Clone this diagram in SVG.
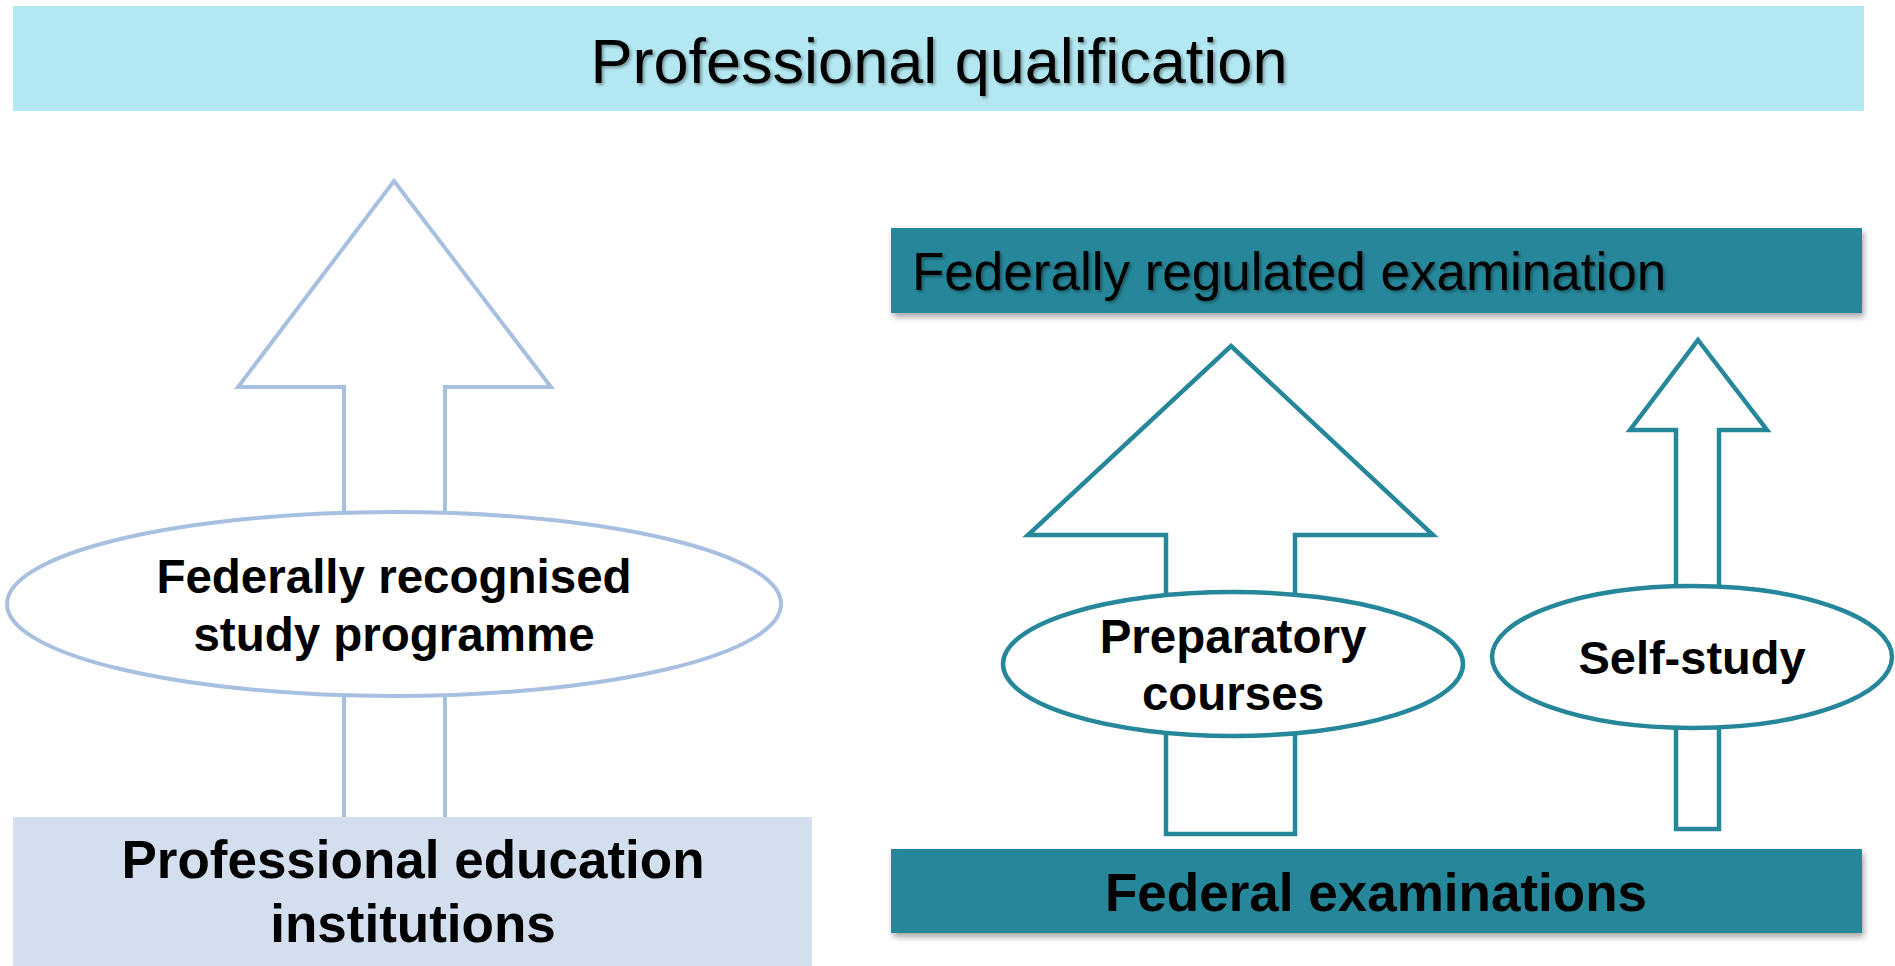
<svg xmlns="http://www.w3.org/2000/svg" width="1895" height="966" viewBox="0 0 1895 966">
  <defs>
    <filter id="boxShadow" x="-5%" y="-20%" width="110%" height="150%">
      <feDropShadow dx="2" dy="4" stdDeviation="3" flood-color="#000" flood-opacity="0.35"/>
    </filter>
    <filter id="textShadow" x="-5%" y="-20%" width="110%" height="150%">
      <feDropShadow dx="2" dy="2" stdDeviation="1.5" flood-color="#000" flood-opacity="0.35"/>
    </filter>
  </defs>
  <style>
    .t { font-family: "Liberation Sans", Arial, sans-serif; fill: #000; }
    .b { font-weight: bold; }
    .light { fill: #fff; stroke: #A8C0E0; stroke-width: 4; }
    .teal { fill: #fff; stroke: #27879A; stroke-width: 4.5; }
  </style>
  <rect width="1895" height="966" fill="#fff"/>

  <g id="connectors">
    <path id="arrow-left" class="light" d="M394,181 L551,387 L445,387 L445,820 L344,820 L344,387 L238,387 Z"/>
    <path id="arrow-prep" class="teal" d="M1231,346 L1433,535 L1295,535 L1295,834 L1166,834 L1166,535 L1028,535 Z"/>
    <path id="arrow-self" class="teal" d="M1698,340 L1767,430 L1719,430 L1719,829 L1676,829 L1676,430 L1630,430 Z"/>
  </g>

  <g id="node-qualification">
    <rect x="13" y="6" width="1851" height="105" fill="#B3E8F2"/>
    <text class="t" x="939" y="83" font-size="63" text-anchor="middle" filter="url(#textShadow)">Professional qualification</text>
  </g>

  <g id="node-regulated-exam">
    <rect x="891" y="228" width="971" height="85" fill="#27879A" filter="url(#boxShadow)"/>
    <text class="t" x="912" y="290" font-size="53" filter="url(#textShadow)">Federally regulated examination</text>
  </g>

  <g id="node-study-programme">
    <ellipse class="light" cx="394" cy="604" rx="387" ry="92"/>
    <text class="t b" x="394" y="593" font-size="47.5" text-anchor="middle">Federally recognised</text>
    <text class="t b" x="394" y="651" font-size="47.5" text-anchor="middle">study programme</text>
  </g>

  <g id="node-education-institutions">
    <rect x="13" y="817" width="799" height="160" fill="#D3DFEF"/>
    <text class="t b" x="413" y="878" font-size="53" text-anchor="middle">Professional education</text>
    <text class="t b" x="413" y="942" font-size="53" text-anchor="middle">institutions</text>
  </g>

  <g id="node-preparatory">
    <ellipse class="teal" cx="1233" cy="664" rx="230" ry="72"/>
    <text class="t b" x="1233" y="653" font-size="47.5" text-anchor="middle">Preparatory</text>
    <text class="t b" x="1233" y="710" font-size="47.5" text-anchor="middle">courses</text>
  </g>

  <g id="node-self-study">
    <ellipse class="teal" cx="1692" cy="657" rx="200" ry="71"/>
    <text class="t b" x="1692" y="674" font-size="47" text-anchor="middle">Self-study</text>
  </g>

  <g id="node-federal-exams">
    <rect x="891" y="849" width="971" height="84" fill="#27879A" filter="url(#boxShadow)"/>
    <text class="t b" x="1376" y="911" font-size="53" text-anchor="middle">Federal examinations</text>
  </g>
</svg>
